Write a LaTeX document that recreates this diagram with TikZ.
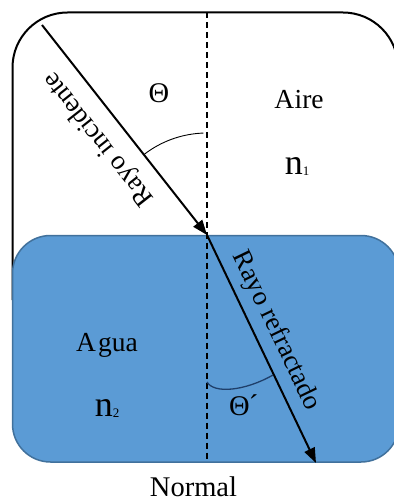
\documentclass[tikz,border=0pt]{standalone}
\usepackage{fontspec}
\setmainfont{Liberation Serif}
\usetikzlibrary{arrows.meta}
\definecolor{water}{HTML}{5B9BD5}
\definecolor{waterborder}{HTML}{41719C}
\definecolor{arcblue}{HTML}{1F3F6A}
\begin{document}
\begin{tikzpicture}[x=1pt,y=-1pt,
  ray/.style={line width=2pt,-{Triangle[length=15pt,width=11pt]}},
  lbl/.style={inner sep=0pt,font=\fontsize{27}{30}\selectfont},
  greek/.style={inner sep=0pt,font=\fontsize{28.5}{30}\selectfont},
  medium/.style={inner sep=0pt,font=\fontsize{27.5}{30}\selectfont},
  nlbl/.style={inner sep=0pt,font=\fontsize{36}{38}\selectfont},
  normalline/.style={line width=1.5pt,dash pattern=on 6pt off 4pt}]
\useasboundingbox (0,0) rectangle (393,502);
% air region
\draw[line width=2pt,rounded corners=55pt] (12.5,300) -- (12.5,12.5) -- (398,12.5) -- (398,300);
% water region
\draw[fill=water,draw=waterborder,line width=1.5pt,rounded corners=38pt] (12.5,235.5) rectangle (399,462);
% key points
\coordinate (O) at (207,235);
\coordinate (S) at (42,25);
\coordinate (E) at (316,463);
\coordinate (Ntop) at (207,12.5);
\coordinate (Nbot) at (207,462);
% normal
\draw[normalline] (Ntop) -- (Nbot);
% rays
\draw[ray] (S) -- (O);
\draw[ray] (O) -- (E);
% angle arcs
\draw[line width=0.9pt] plot[domain=92:127.5,samples=25,smooth] ({207+103*cos(\x)},{236-103*sin(\x)});
\draw[arcblue,line width=1.3pt] (207,382) .. controls (214,394) and (245,391) .. (273,375);
% labels
\node[greek,anchor=base] (theta) at (159,103) {Θ};
\node[greek,anchor=base west] (thetap) at (229,415.5) {Θ\kern-1pt\raisebox{1pt}{´}};
\node[medium,anchor=base] (aire) at (299,108.5) {A\kern0.5pt ire};
\node[nlbl,anchor=base] (n1) at (297,175) {n\raisebox{-1pt}{\fontsize{13}{13}\selectfont 1}};
\node[medium,anchor=base] (agua) at (107,351.5) {A\kern2pt gua};
\node[nlbl,anchor=base] (n2) at (107,416.5) {n\raisebox{-1pt}{\fontsize{13}{13}\selectfont 2}};
\node[inner sep=0pt,font=\fontsize{28.5}{32}\selectfont,anchor=base] (normal) at (193.5,496.5) {Normal};
\node[lbl,rotate=128.2] (inc) at (99,139) {Rayo incidente};
\node[lbl,rotate=-64.25] (ref) at (276,331) {Rayo refractado};
\end{tikzpicture}
\end{document}
